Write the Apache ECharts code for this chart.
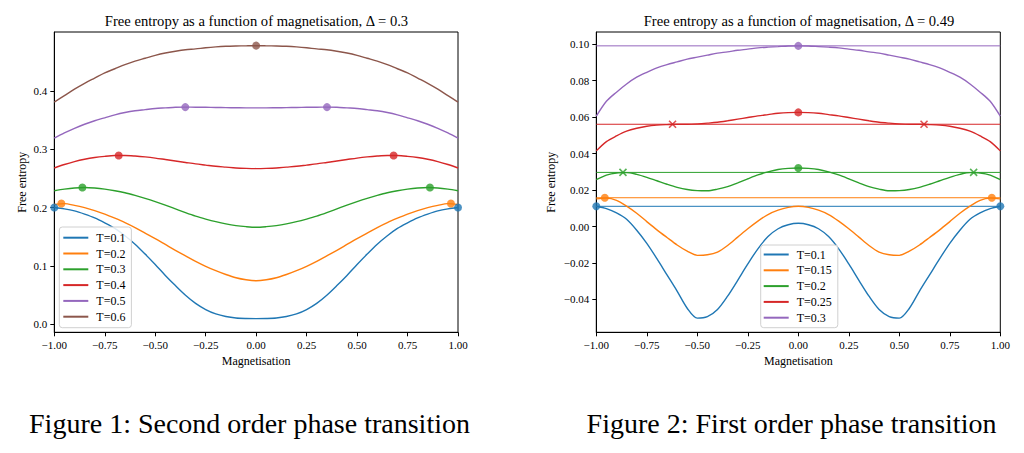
<!DOCTYPE html>
<html><head><meta charset="utf-8">
<script src="https://cdn.jsdelivr.net/npm/echarts@6/dist/echarts.min.js"></script>
<style>html,body{margin:0;padding:0;background:#fff}#chart{width:1024px;height:453px}</style>
</head><body><div id="chart"></div>
<script>
// ---------- shared ----------
const magnetisation = [-1.00,-0.95,-0.90,-0.85,-0.80,-0.75,-0.70,-0.65,-0.60,-0.55,-0.50,-0.45,-0.40,-0.35,-0.30,-0.25,-0.20,-0.15,-0.10,-0.05,0.00,
  0.05,0.10,0.15,0.20,0.25,0.30,0.35,0.40,0.45,0.50,0.55,0.60,0.65,0.70,0.75,0.80,0.85,0.90,0.95,1.00];
const xTicks = [-1,-0.75,-0.5,-0.25,0,0.25,0.5,0.75,1];

// ---------- Figure 1 : Delta = 0.3 ----------
const leftTemps = ['T=0.1','T=0.2','T=0.3','T=0.4','T=0.5','T=0.6'];
const leftT01 = [0.2003,0.198,0.1945,0.189,0.1825,0.174,0.1645,0.152,0.1375,0.1205,0.1025,0.084,0.0665,0.050,0.036,0.0255,0.018,0.0135,0.011,0.0102,0.010,
  0.0102,0.011,0.0135,0.018,0.0255,0.036,0.050,0.0665,0.084,0.1025,0.1205,0.1375,0.152,0.1645,0.174,0.1825,0.189,0.1945,0.198,0.2003];
const leftT02 = [0.2055,0.207,0.204,0.200,0.195,0.189,0.182,0.1745,0.166,0.1565,0.147,0.137,0.127,0.1175,0.108,0.0995,0.092,0.0855,0.080,0.0765,0.0748,
  0.0765,0.080,0.0855,0.092,0.0995,0.108,0.1175,0.127,0.137,0.147,0.1565,0.166,0.1745,0.182,0.189,0.195,0.200,0.204,0.207,0.2055];
const leftT03 = [0.229,0.2318,0.2338,0.2346,0.2337,0.2318,0.229,0.2255,0.221,0.216,0.2105,0.2045,0.198,0.1915,0.1855,0.1805,0.176,0.1722,0.1693,0.1675,0.1665,
  0.1675,0.1693,0.1722,0.176,0.1805,0.1855,0.1915,0.198,0.2045,0.2105,0.216,0.221,0.2255,0.229,0.2318,0.2337,0.2346,0.2338,0.2318,0.229];
const leftT04 = [0.268,0.274,0.279,0.283,0.286,0.288,0.2893,0.2894,0.2885,0.287,0.285,0.2825,0.280,0.2775,0.275,0.273,0.271,0.2695,0.268,0.2673,0.267,
  0.2673,0.268,0.2695,0.271,0.273,0.275,0.2775,0.280,0.2825,0.285,0.287,0.2885,0.2894,0.2893,0.288,0.286,0.283,0.279,0.274,0.268];
const leftT05 = [0.319,0.328,0.336,0.343,0.349,0.354,0.359,0.363,0.366,0.368,0.370,0.371,0.372,0.3723,0.3722,0.372,0.3717,0.3714,0.3712,0.371,0.371,
  0.371,0.3712,0.3714,0.3717,0.372,0.3722,0.3723,0.372,0.371,0.370,0.368,0.366,0.363,0.359,0.354,0.349,0.343,0.336,0.328,0.319];
const leftT06 = [0.381,0.392,0.403,0.413,0.422,0.431,0.438,0.445,0.451,0.456,0.461,0.465,0.468,0.4705,0.472,0.474,0.4755,0.4765,0.477,0.4773,0.4775,
  0.4773,0.477,0.4765,0.4755,0.474,0.472,0.4705,0.468,0.465,0.461,0.456,0.451,0.445,0.438,0.431,0.422,0.413,0.403,0.392,0.381];
const leftPeakM = [[-1,1],[-0.965,0.965],[-0.861,0.861],[-0.681,0.681],[-0.351,0.351],[0]];
const leftPeakF = [0.2003,0.2072,0.2346,0.2895,0.3723,0.4777];
const leftYTicks = [0,0.1,0.2,0.3,0.4];
const leftYMin = -0.0135, leftYMax = 0.501;

// ---------- Figure 2 : Delta = 0.49 ----------
const rightTemps = ['T=0.1','T=0.15','T=0.2','T=0.25','T=0.3'];
const rightT01  = [0.0111,0.0098,0.0075,0.0040,-0.0020,-0.0092,-0.0176,-0.0265,-0.0354,-0.0448,-0.0502,-0.0494,-0.0455,-0.0382,-0.0295,-0.0205,-0.0122,-0.0055,-0.0012,0.0010,0.0018,
  0.0010,-0.0012,-0.0055,-0.0122,-0.0205,-0.0295,-0.0382,-0.0455,-0.0494,-0.0502,-0.0448,-0.0354,-0.0265,-0.0176,-0.0092,-0.0020,0.0040,0.0075,0.0098,0.0111];
const rightT015 = [0.0152,0.0156,0.0144,0.0112,0.0073,0.0027,-0.0018,-0.0060,-0.0101,-0.0135,-0.0158,-0.0155,-0.0140,-0.0104,-0.0058,-0.0012,0.0030,0.0066,0.0090,0.0105,0.0111,
  0.0105,0.0090,0.0066,0.0030,-0.0012,-0.0058,-0.0104,-0.0140,-0.0155,-0.0158,-0.0135,-0.0101,-0.0060,-0.0018,0.0027,0.0073,0.0112,0.0144,0.0156,0.0152];
const rightT02  = [0.0257,0.0282,0.0294,0.0296,0.0286,0.0270,0.0251,0.0232,0.0215,0.0203,0.0197,0.0196,0.0205,0.0219,0.0240,0.0262,0.0283,0.0300,0.0313,0.0319,0.0321,
  0.0319,0.0313,0.0300,0.0283,0.0262,0.0240,0.0219,0.0205,0.0196,0.0197,0.0203,0.0215,0.0232,0.0251,0.0270,0.0286,0.0296,0.0294,0.0282,0.0257];
const rightT025 = [0.0415,0.0466,0.0497,0.0523,0.0539,0.0550,0.0556,0.0559,0.0561,0.0561,0.0563,0.0567,0.0572,0.0580,0.0589,0.0598,0.0607,0.0614,0.0621,0.0625,0.0626,
  0.0625,0.0621,0.0614,0.0607,0.0598,0.0589,0.0580,0.0572,0.0567,0.0563,0.0561,0.0561,0.0559,0.0556,0.0550,0.0539,0.0523,0.0497,0.0466,0.0415];
const rightT03  = [0.0605,0.0687,0.0737,0.0782,0.0819,0.0846,0.0870,0.0888,0.0903,0.0918,0.0929,0.0940,0.0951,0.0958,0.0967,0.0973,0.0980,0.0984,0.0987,0.0990,0.0991,
  0.0990,0.0987,0.0984,0.0980,0.0973,0.0967,0.0958,0.0951,0.0940,0.0929,0.0918,0.0903,0.0888,0.0870,0.0846,0.0819,0.0782,0.0737,0.0687,0.0605];
const rightLevel = [0.0111,0.0158,0.0297,0.0561,0.0991];
const rightDotM = [[-1,1],[-0.958,0.958],[0],[0],[0]];
const rightDotF = [0.0111,0.0158,0.0321,0.0626,0.0991];
const rightCrossM = [[],[],[-0.868,0.868],[-0.6225,0.6225],[]];
const rightCrossF = [null,null,0.0297,0.0561,null];
const rightYTicks = [-0.04,-0.02,0,0.02,0.04,0.06,0.08,0.10];
const rightYMin = -0.058, rightYMax = 0.1067;

// ---------- styling ----------
const palette = ['#1f77b4','#ff7f0e','#2ca02c','#d62728','#9467bd','#8c564b'];
const FONT = '"Liberation Serif", "DejaVu Serif", serif';
const minus = s => s.replace('-', '\u2212');
const fmt = d => v => minus((Math.abs(v) < 1e-12 ? 0 : v).toFixed(d));

function lineSeries(prefix, name, ys, color, gi) {
  return { type: 'line', name: prefix + name, xAxisIndex: gi, yAxisIndex: gi,
    data: magnetisation.map((m, i) => [m, ys[i]]), showSymbol: false, symbol: 'none',
    smooth: 0.3, lineStyle: { color, width: 1.4 }, itemStyle: { color }, z: 3, silent: true };
}
function levelSeries(v, color, gi, k) {
  return { type: 'line', name: 'level' + k, xAxisIndex: gi, yAxisIndex: gi,
    data: [[-1, v], [1, v]], showSymbol: false, symbol: 'none',
    lineStyle: { color, width: 1 }, itemStyle: { color }, z: 2, silent: true };
}
function dotSeries(ms, f, color, gi, k) {
  return { type: 'scatter', name: 'dot' + gi + '_' + k, xAxisIndex: gi, yAxisIndex: gi,
    data: ms.map(m => [m, f]), symbol: 'circle', symbolSize: 8, clip: false,
    itemStyle: { color }, z: 5, silent: true };
}
function crossSeries(ms, f, color, gi, k) {
  return { type: 'scatter', name: 'cross' + gi + '_' + k, xAxisIndex: gi, yAxisIndex: gi,
    data: ms.map(m => [m, f]), symbol: 'path://M0,0L10,10M10,0L0,10', symbolSize: 7,
    itemStyle: { color: 'none', borderColor: color, borderWidth: 1.6 }, z: 5, silent: true };
}

const series = [];
const leftData = [leftT01, leftT02, leftT03, leftT04, leftT05, leftT06];
leftTemps.forEach((t, k) => series.push(lineSeries('L:', t, leftData[k], palette[k], 0)));
leftTemps.forEach((t, k) => series.push(dotSeries(leftPeakM[k], leftPeakF[k], palette[k], 0, k)));

const rightData = [rightT01, rightT015, rightT02, rightT025, rightT03];
rightTemps.forEach((t, k) => series.push(lineSeries('R:', t, rightData[k], palette[k], 1)));
rightLevel.forEach((v, k) => series.push(levelSeries(v, palette[k], 1, k)));
rightTemps.forEach((t, k) => {
  if (rightDotM[k].length) series.push(dotSeries(rightDotM[k], rightDotF[k], palette[k], 1, k));
  if (rightCrossM[k].length) series.push(crossSeries(rightCrossM[k], rightCrossF[k], palette[k], 1, k));
});

function xAxis(gi) {
  return { type: 'value', gridIndex: gi, min: -1, max: 1, interval: 0.25,
    name: 'Magnetisation', nameLocation: 'middle', nameGap: 20,
    nameTextStyle: { fontFamily: FONT, fontSize: 12, color: '#000' },
    axisLine: { show: true, onZero: false, lineStyle: { color: '#000', width: 1 } },
    axisTick: { show: true, length: 4, lineStyle: { color: '#000', width: 1 }, customValues: xTicks },
    axisLabel: { fontFamily: FONT, fontSize: 11, color: '#000', margin: 7, formatter: fmt(2), customValues: xTicks },
    splitLine: { show: false } };
}
function yAxis(gi, min, max, ticks, dec, gap) {
  return { type: 'value', gridIndex: gi, min, max,
    name: 'Free entropy', nameLocation: 'middle', nameGap: gap,
    nameTextStyle: { fontFamily: FONT, fontSize: 12, color: '#000' },
    axisLine: { show: true, onZero: false, lineStyle: { color: '#000', width: 1 } },
    axisTick: { show: true, length: 4, lineStyle: { color: '#000', width: 1 }, customValues: ticks },
    axisLabel: { fontFamily: FONT, fontSize: 11, color: '#000', margin: 7, formatter: fmt(dec), customValues: ticks },
    splitLine: { show: false } };
}
function legend(prefix, names, left, top, padding) {
  return { data: names.map(n => prefix + n), left, top, orient: 'vertical', icon: 'rect',
    itemWidth: 25, itemHeight: 2, itemGap: 3.8, padding, selectedMode: false,
    backgroundColor: 'rgba(255,255,255,0.85)', borderColor: '#d0d0d0', borderWidth: 1, borderRadius: 3,
    formatter: n => n.slice(prefix.length),
    textStyle: { fontFamily: FONT, fontSize: 12, lineHeight: 12, color: '#000', padding: [0, 0, 0, 3] } };
}
function text(x, y, str, size) {
  return { type: 'text', x, y, silent: true,
    style: { text: str, fontFamily: FONT, fontSize: size, fill: '#000', align: 'center', verticalAlign: 'middle' } };
}

const chart = echarts.init(document.getElementById('chart'), null, { renderer: 'svg' });
chart.setOption({
  animation: false,
  backgroundColor: '#fff',
  grid: [
    { left: 54.3, top: 32, width: 403.7, height: 300.3, show: true, borderColor: '#000', borderWidth: 1, backgroundColor: 'transparent' },
    { left: 596.3, top: 32, width: 404, height: 300.3, show: true, borderColor: '#000', borderWidth: 1, backgroundColor: 'transparent' }
  ],
  xAxis: [xAxis(0), xAxis(1)],
  yAxis: [yAxis(0, leftYMin, leftYMax, leftYTicks, 1, 26), yAxis(1, rightYMin, rightYMax, rightYTicks, 2, 39)],
  legend: [
    legend('L:', leftTemps, 59.3, 227, [4.7, 6, 5, 4]),
    legend('R:', rightTemps, 760.7, 245, [3.5, 6, 4, 3])
  ],
  graphic: [
    text(256.5, 21, 'Free entropy as a function of magnetisation, \u0394 = 0.3', 14.6),
    text(799, 21, 'Free entropy as a function of magnetisation, \u0394 = 0.49', 14.6),
    text(249.5, 423, 'Figure 1: Second order phase transition', 28),
    text(791.5, 423, 'Figure 2: First order phase transition', 28)
  ],
  series
});
</script></body></html>
